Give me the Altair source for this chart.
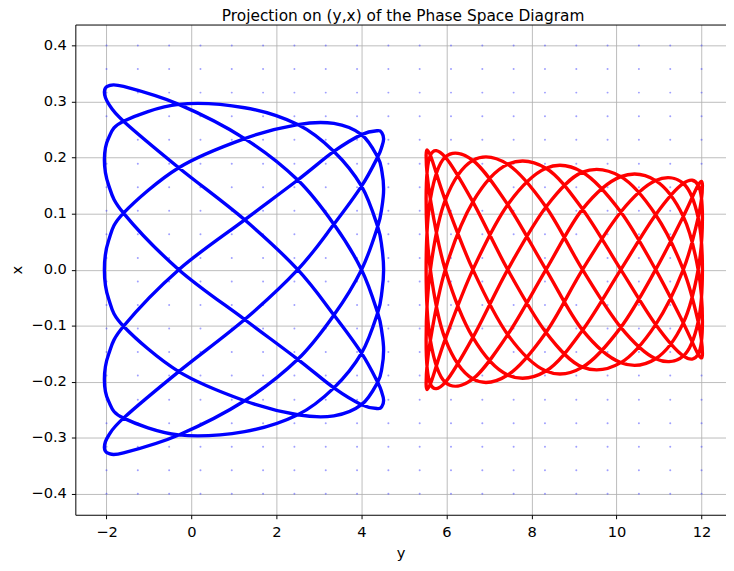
import altair as alt
import pandas as pd

TITLE = "Projection on (y,x) of the Phase Space Diagram"
X_TICKS = [-2, 0, 2, 4, 6, 8, 10, 12]
Y_TICKS = [-0.4, -0.3, -0.2, -0.1, 0.0, 0.1, 0.2, 0.3, 0.4]

# background field of small dots (columns along y, rows along x)
GRID_Y = [-2.0, -1.263, -0.526, 0.211, 0.947, 1.684, 2.421, 3.158, 3.895, 4.632,
          5.368, 6.105, 6.842, 7.579, 8.316, 9.053, 9.789, 10.526, 11.263, 12.0]
GRID_X = [-0.4, -0.358, -0.316, -0.274, -0.232, -0.189, -0.147, -0.105, -0.063, -0.021,
          0.021, 0.063, 0.105, 0.147, 0.189, 0.232, 0.274, 0.316, 0.358, 0.4]

# blue orbit: strokes read left -> right at these y positions
BLUE_Y = [-2.05, -1.95, -1.6, -0.3, 1.25, 2.5, 3.35, 4.0, 4.38, 4.48, 4.52]
BLUE_S1 = [0.317, 0.328, 0.327, 0.295, 0.234, 0.160, 0.081, 0.0, -0.077, -0.112, -0.144]
BLUE_S2 = [0.0, -0.052, -0.101, -0.182, -0.234, -0.259, -0.261, -0.241, -0.201, -0.175, -0.144]
BLUE_S3 = [0.0, 0.052, 0.101, 0.182, 0.234, 0.259, 0.261, 0.241, 0.201, 0.175, 0.144]
BLUE_S4 = [-0.317, -0.328, -0.327, -0.295, -0.234, -0.160, -0.081, 0.0, 0.077, 0.112, 0.144]
BLUE_S5 = [-0.317, -0.296, -0.265, -0.182, -0.089, 0.0, 0.081, 0.149, 0.201, 0.220, 0.233]
BLUE_S6 = [-0.196, -0.151, -0.101, 0.0, 0.089, 0.160, 0.211, 0.241, 0.248, 0.244, 0.233]
BLUE_S7 = [-0.196, -0.235, -0.265, -0.295, -0.289, -0.259, -0.211, -0.149, -0.077, -0.039, 0.0]
BLUE_S8 = [0.196, 0.235, 0.265, 0.295, 0.289, 0.259, 0.211, 0.149, 0.077, 0.039, 0.0]
BLUE_S9 = [0.196, 0.151, 0.101, 0.0, -0.089, -0.160, -0.211, -0.241, -0.248, -0.244, -0.233]
BLUE_S10 = [0.317, 0.296, 0.265, 0.182, 0.089, 0.0, -0.081, -0.149, -0.201, -0.220, -0.233]
BLUE_ORDER = [(BLUE_S1, 1), (BLUE_S2, -1), (BLUE_S3, 1), (BLUE_S4, -1), (BLUE_S5, 1),
              (BLUE_S6, -1), (BLUE_S7, 1), (BLUE_S8, -1), (BLUE_S9, 1), (BLUE_S10, -1)]

# red orbit
RED_Y = [5.52, 5.62, 5.97, 6.62, 7.44, 8.34, 9.20, 10.10, 10.92, 11.57, 11.92, 12.02]
RED_K0 = [0.204, 0.126, 0.0, -0.121, -0.188, -0.181, -0.108, 0.0, 0.098, 0.154, 0.151, 0.093]
RED_K1 = [0.126, 0.0, -0.124, -0.195, -0.188, -0.112, 0.0, 0.103, 0.159, 0.154, 0.093, 0.0]
RED_K2 = [0.0, -0.126, -0.201, -0.195, -0.116, 0.0, 0.108, 0.166, 0.159, 0.095, 0.0, -0.093]
RED_K3 = [-0.126, -0.204, -0.201, -0.121, 0.0, 0.112, 0.174, 0.166, 0.098, 0.0, -0.093, -0.150]
RED_K4 = [-0.204, -0.204, -0.124, 0.0, 0.116, 0.181, 0.174, 0.103, 0.0, -0.095, -0.151, -0.150]
RED_K5 = [-0.204, -0.126, 0.0, 0.121, 0.188, 0.181, 0.108, 0.0, -0.098, -0.154, -0.151, -0.093]
RED_K6 = [-0.126, 0.0, 0.124, 0.195, 0.188, 0.112, 0.0, -0.103, -0.159, -0.154, -0.093, 0.0]
RED_K7 = [0.0, 0.126, 0.201, 0.195, 0.116, 0.0, -0.108, -0.166, -0.159, -0.095, 0.0, 0.093]
RED_K8 = [0.126, 0.204, 0.201, 0.121, 0.0, -0.112, -0.174, -0.166, -0.098, 0.0, 0.093, 0.150]
RED_K9 = [0.204, 0.204, 0.124, 0.0, -0.116, -0.181, -0.174, -0.103, 0.0, 0.095, 0.151, 0.150]
RED_ORDER = [(RED_K0, 1), (RED_K7, -1), (RED_K2, 1), (RED_K5, -1), (RED_K4, 1),
             (RED_K3, -1), (RED_K6, 1), (RED_K1, -1), (RED_K8, 1), (RED_K9, -1)]


def build_path(ys, order):
    rows = []
    for n, (xs, d) in enumerate(order):
        idx = list(range(len(ys))) if d > 0 else list(range(len(ys) - 1, -1, -1))
        if n > 0:
            idx = idx[1:]
        for i in idx:
            rows.append((ys[i], xs[i]))
    if abs(rows[-1][0] - rows[0][0]) < 1e-9 and abs(rows[-1][1] - rows[0][1]) < 1e-9:
        rows.pop()
    return pd.DataFrame({"y": [r[0] for r in rows], "x": [r[1] for r in rows],
                         "i": list(range(len(rows)))})


df_blue = build_path(BLUE_Y, BLUE_ORDER)
df_red = build_path(RED_Y, RED_ORDER)
df_dots = pd.DataFrame([(gy, gx) for gy in GRID_Y for gx in GRID_X], columns=["y", "x"])

FONT = "DejaVu Sans"
x_scale = alt.Scale(domain=[-2.733, 12.575], nice=False, zero=False)
y_scale = alt.Scale(domain=[-0.4375, 0.4375], nice=False, zero=False)

dots = alt.Chart(df_dots).mark_point(
    filled=True, shape="circle", size=4, color="#4040ff", opacity=0.5
).encode(
    x=alt.X("y:Q", scale=x_scale,
            axis=alt.Axis(values=X_TICKS, format="d", title="y", orient="bottom",
                          labelPadding=6, titlePadding=6)),
    y=alt.Y("x:Q", scale=y_scale,
            axis=alt.Axis(values=Y_TICKS, format=".1f", title="x", orient="left",
                          labelPadding=5, titlePadding=6.5)),
)

blue = alt.Chart(df_blue).mark_line(
    color="#0000ff", strokeWidth=3.4, interpolate="cardinal-closed"
).encode(
    x=alt.X("y:Q", scale=x_scale, axis=None),
    y=alt.Y("x:Q", scale=y_scale, axis=None),
    order=alt.Order("i:Q"),
)

red = alt.Chart(df_red).mark_line(
    color="#ff0000", strokeWidth=3.4, interpolate="cardinal-closed"
).encode(
    x=alt.X("y:Q", scale=x_scale,
            axis=alt.Axis(orient="top", labels=False, ticks=False, grid=False,
                          domain=True, title=None)),
    y=alt.Y("x:Q", scale=y_scale, axis=None),
    order=alt.Order("i:Q"),
)

chart = alt.layer(dots, blue, red).resolve_axis(
    x="independent", y="independent"
).properties(
    width=657,
    height=495,
    padding={"left": 68, "top": 14, "right": 0, "bottom": 47},
    autosize=alt.AutoSizeParams(type="none"),
    title=alt.TitleParams(TITLE, font=FONT, fontSize=15.5, fontWeight="normal",
                          color="black", anchor="middle", frame="group",
                          offset=2, baseline="alphabetic", dx=2.5, dy=14),
).configure_view(
    stroke="transparent"
).configure_axis(
    domainColor="black", domainWidth=1, tickColor="black", tickWidth=1, tickSize=4,
    labelFont=FONT, labelFontSize=14.8, labelColor="black",
    titleFont=FONT, titleFontSize=14.8, titleFontWeight="normal", titleColor="black",
    gridColor="#b0b0b0", gridWidth=0.85,
)

chart.save("out.html", embed_options={"renderer": "svg", "actions": False})
